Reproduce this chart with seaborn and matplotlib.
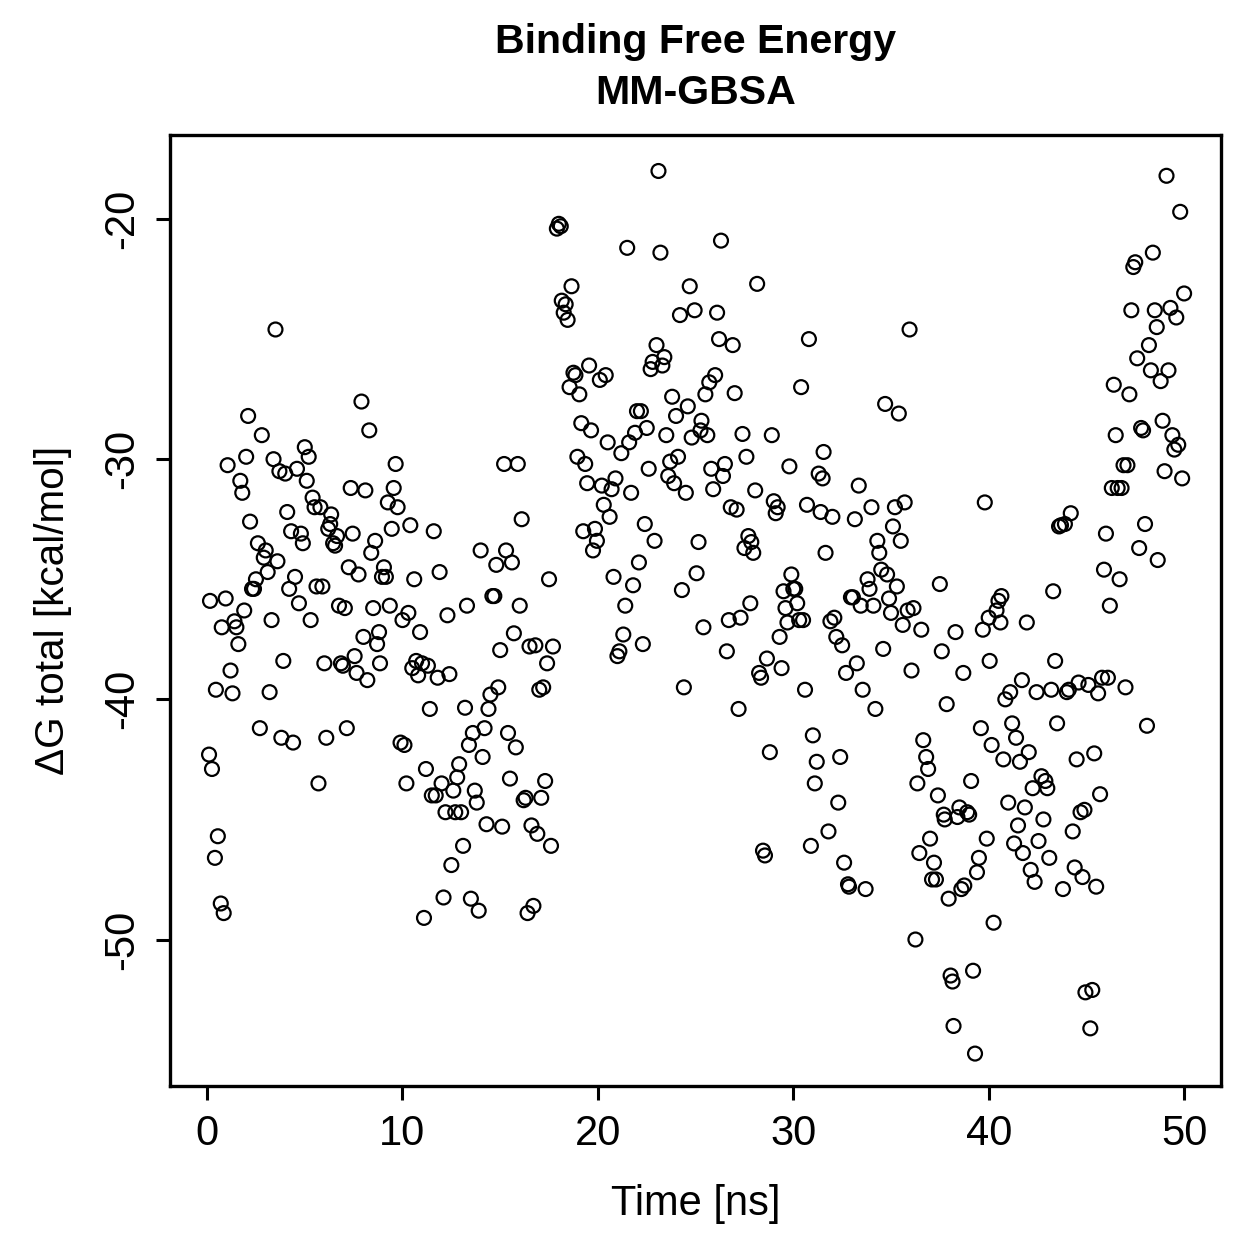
import matplotlib
matplotlib.use("Agg")
import matplotlib.pyplot as plt
import seaborn as sns
import pandas as pd

time_ns = [
0.1,0.25,0.15,0.4,0.45,0.55,0.7,0.85,0.75,0.95,1.05,1.2,1.3,1.4,1.5,1.6,1.7,1.8,1.9,2.0,
2.1,2.2,2.3,2.4,2.5,2.6,2.7,2.8,2.9,3.0,3.1,3.2,3.3,3.4,3.5,3.6,3.7,3.8,3.9,4.0,
4.1,4.2,4.3,4.4,4.5,4.6,4.7,4.8,4.9,5.0,5.1,5.2,5.3,5.4,5.5,5.6,5.7,5.8,5.9,6.0,
6.1,6.2,6.3,6.35,6.45,6.55,6.65,6.75,6.85,6.95,7.05,7.15,7.25,7.35,7.45,7.55,7.65,7.75,7.9,8.0,
8.1,8.2,8.3,8.4,8.5,8.6,8.7,8.8,8.85,8.95,9.05,9.15,9.25,9.35,9.45,9.55,9.65,9.75,9.9,10.0,
10.1,10.2,10.3,10.4,10.5,10.6,10.7,10.8,10.9,11.0,11.1,11.2,11.3,11.4,11.5,11.6,11.7,11.8,11.9,12.0,
12.1,12.2,12.3,12.4,12.5,12.6,12.7,12.8,12.9,13.0,13.1,13.2,13.3,13.4,13.5,13.6,13.7,13.8,13.9,14.0,
14.1,14.2,14.3,14.4,14.5,14.6,14.7,14.8,14.9,15.0,15.1,15.2,15.3,15.4,15.5,15.6,15.7,15.8,15.9,16.0,
16.1,16.2,16.3,16.4,16.5,16.6,16.7,16.8,16.9,17.0,17.1,17.2,17.3,17.4,17.5,17.6,17.7,17.9,18.0,18.1,
18.15,18.25,18.35,18.45,18.55,18.65,18.75,18.85,18.95,19.05,19.15,19.25,19.35,19.45,19.55,19.65,19.75,19.85,19.95,20.1,
20.2,20.3,20.4,20.5,20.6,20.7,20.8,20.9,21.0,21.1,21.2,21.3,21.4,21.5,21.6,21.7,21.8,21.9,22.0,22.1,
22.2,22.3,22.4,22.5,22.6,22.7,22.8,22.9,23.0,23.1,23.2,23.3,23.4,23.5,23.6,23.7,23.8,23.9,24.0,24.1,
24.2,24.3,24.4,24.5,24.6,24.7,24.8,24.95,25.05,25.15,25.25,25.3,25.4,25.5,25.6,25.7,25.8,25.9,26.0,26.1,
26.2,26.3,26.4,26.5,26.6,26.7,26.8,26.9,27.0,27.1,27.2,27.3,27.4,27.5,27.6,27.7,27.8,27.85,27.95,28.05,
28.15,28.25,28.35,28.45,28.55,28.65,28.8,28.9,29.0,29.1,29.2,29.3,29.4,29.5,29.6,29.7,29.8,29.9,30.0,30.1,
30.2,30.3,30.4,30.5,30.6,30.7,30.8,30.9,31.0,31.1,31.2,31.3,31.4,31.5,31.55,31.65,31.8,31.9,32.0,32.1,
32.2,32.3,32.4,32.5,32.6,32.7,32.8,32.85,32.95,33.05,33.15,33.25,33.35,33.45,33.55,33.7,33.8,33.9,34.0,34.1,
34.2,34.3,34.4,34.5,34.6,34.7,34.8,34.9,35.0,35.1,35.2,35.3,35.4,35.5,35.6,35.7,35.85,35.95,36.05,36.15,
36.25,36.35,36.45,36.55,36.65,36.8,36.9,37.0,37.1,37.2,37.3,37.4,37.5,37.6,37.7,37.75,37.85,37.95,38.05,38.15,
38.2,38.3,38.4,38.5,38.6,38.7,38.75,38.9,39.0,39.1,39.2,39.3,39.4,39.5,39.6,39.7,39.8,39.9,40.0,40.05,
40.15,40.25,40.4,40.5,40.6,40.65,40.75,40.85,41.0,41.1,41.2,41.3,41.4,41.5,41.6,41.7,41.75,41.85,41.95,42.05,
42.15,42.25,42.35,42.45,42.55,42.7,42.8,42.9,43.0,43.1,43.2,43.3,43.4,43.5,43.6,43.7,43.8,43.9,44.0,44.1,
44.2,44.3,44.4,44.5,44.6,44.7,44.8,44.9,44.95,45.1,45.2,45.3,45.4,45.5,45.6,45.7,45.8,45.9,46.0,46.1,
46.2,46.3,46.4,46.5,46.6,46.7,46.8,46.9,47.0,47.1,47.2,47.3,47.4,47.5,47.6,47.7,47.8,47.9,48.0,48.1,
48.2,48.3,48.4,48.5,48.6,48.65,48.8,48.9,49.0,49.1,49.2,49.3,49.4,49.5,49.6,49.7,49.8,49.9,50.0,
]

dg_total = [
-42.3,-42.9,-35.9,-46.6,-39.6,-45.7,-48.5,-48.9,-37.0,-35.8,-30.25,-38.8,-39.75,-36.75,-37.0,-37.7,-30.9,-31.4,-36.3,-29.9,
-28.2,-32.6,-35.4,-35.4,-35.0,-33.5,-41.2,-29.0,-34.1,-33.8,-34.7,-39.7,-36.7,-30.0,-24.6,-34.25,-30.5,-41.6,-38.4,-30.6,
-32.2,-35.4,-33.0,-41.8,-34.9,-30.4,-36.0,-33.1,-33.5,-29.5,-30.9,-29.9,-36.7,-31.6,-32.0,-35.3,-43.5,-32.0,-35.3,-38.5,
-41.6,-32.9,-32.7,-32.3,-33.5,-33.6,-33.2,-36.1,-38.5,-38.6,-36.2,-41.2,-34.5,-31.2,-33.1,-38.2,-38.9,-34.8,-27.6,-37.4,
-31.3,-39.2,-28.8,-33.9,-36.2,-33.4,-37.7,-37.2,-38.5,-34.9,-34.5,-34.9,-31.8,-36.1,-32.9,-31.2,-30.2,-32.0,-41.8,-36.7,
-41.9,-43.5,-36.4,-32.75,-38.7,-35.0,-38.4,-39.0,-37.2,-38.5,-49.1,-42.9,-38.6,-40.4,-44.0,-33.0,-44.0,-39.1,-34.7,-43.5,
-48.25,-44.7,-36.5,-38.95,-46.9,-43.8,-44.7,-43.25,-42.7,-44.7,-46.1,-40.35,-36.1,-41.9,-48.3,-41.4,-43.8,-44.3,-48.8,-33.8,
-42.4,-41.2,-45.2,-40.4,-39.8,-35.7,-35.7,-34.4,-39.5,-37.95,-45.3,-30.2,-33.8,-41.4,-43.3,-34.3,-37.25,-42.0,-30.2,-36.1,
-32.5,-44.2,-44.1,-48.9,-37.8,-45.25,-48.6,-37.75,-45.6,-39.6,-44.1,-39.5,-43.4,-38.5,-35.0,-46.1,-37.8,-20.4,-20.2,-20.3,
-23.4,-23.9,-23.55,-24.2,-27.0,-22.8,-26.4,-26.5,-29.9,-27.3,-28.5,-33.0,-30.2,-31.0,-26.1,-28.8,-33.8,-32.9,-33.4,-26.7,
-31.1,-31.9,-26.5,-29.3,-32.4,-31.25,-34.9,-30.8,-38.2,-38.0,-29.75,-37.3,-36.1,-21.2,-29.3,-31.4,-35.25,-28.9,-28.0,-34.3,
-28.0,-37.7,-32.7,-28.7,-30.4,-26.25,-25.95,-33.4,-25.25,-18.0,-21.4,-26.1,-25.75,-29.0,-30.7,-30.1,-27.4,-31.0,-28.2,-29.9,
-24.0,-35.45,-39.5,-31.4,-27.8,-22.8,-29.1,-23.8,-34.75,-33.45,-28.8,-28.4,-37.0,-27.3,-29.0,-26.8,-30.4,-31.25,-26.5,-23.9,
-25.0,-20.9,-30.7,-30.2,-38.0,-36.7,-32.0,-25.25,-27.25,-32.1,-40.4,-36.6,-28.95,-33.7,-29.9,-33.2,-36.0,-33.45,-33.9,-31.3,
-22.7,-38.9,-39.1,-46.3,-46.5,-38.3,-42.2,-29.0,-31.75,-32.25,-32.0,-37.4,-38.7,-35.5,-36.2,-36.8,-30.3,-34.8,-35.4,-35.4,
-36.0,-36.7,-27.0,-36.7,-39.6,-31.9,-25.0,-46.1,-41.5,-43.5,-42.6,-30.6,-32.2,-30.8,-29.7,-33.9,-45.5,-36.75,-32.4,-36.6,
-37.4,-44.3,-42.4,-37.75,-46.8,-38.9,-47.7,-47.8,-35.75,-35.75,-32.5,-38.5,-31.1,-36.1,-39.6,-47.9,-35.0,-35.4,-32.0,-36.1,
-40.4,-33.4,-33.9,-34.6,-37.9,-27.7,-34.8,-35.8,-36.4,-32.8,-32.0,-35.3,-28.1,-33.4,-36.9,-31.8,-36.3,-24.6,-38.8,-36.2,
-50.0,-43.5,-46.4,-37.1,-41.7,-42.4,-42.9,-45.8,-47.5,-46.8,-47.5,-44.0,-35.2,-38.0,-44.8,-45.0,-40.2,-48.3,-51.5,-51.75,
-53.6,-37.2,-44.9,-44.5,-47.9,-38.9,-47.75,-44.7,-44.8,-43.4,-51.3,-54.75,-47.2,-46.6,-41.2,-37.1,-31.8,-45.8,-36.6,-38.4,
-41.9,-49.3,-36.3,-35.9,-36.8,-35.7,-42.5,-40.0,-44.3,-39.7,-41.0,-46.0,-41.6,-45.25,-42.6,-39.2,-46.4,-44.5,-36.8,-42.2,
-47.1,-43.7,-47.6,-39.7,-45.9,-43.2,-45.0,-43.4,-43.7,-46.6,-39.6,-35.5,-38.4,-41.0,-32.8,-32.75,-47.9,-32.7,-39.7,-39.6,
-32.25,-45.5,-47.0,-42.5,-39.3,-44.7,-47.4,-44.6,-52.2,-39.4,-53.7,-52.1,-42.25,-47.8,-39.75,-43.95,-39.1,-34.6,-33.1,-39.1,
-36.1,-31.2,-26.9,-29.0,-31.2,-35.0,-31.2,-30.25,-39.5,-30.25,-27.3,-23.8,-22.0,-21.8,-25.8,-33.7,-28.7,-28.8,-32.7,-41.1,
-25.25,-26.3,-21.4,-23.8,-24.5,-34.2,-26.75,-28.4,-30.5,-18.2,-26.3,-23.7,-29.0,-29.6,-24.1,-29.4,-19.7,-30.8,-23.1,
]

df = pd.DataFrame({"time": time_ns, "dg": dg_total})

sns.set_theme(style="ticks")
plt.rcParams["font.family"] = ["Liberation Sans", "DejaVu Sans"]
plt.rcParams["text.color"] = "black"
plt.rcParams["axes.labelcolor"] = "black"

fig = plt.figure(figsize=(6.295, 6.295), dpi=200)
ax = fig.add_axes([0.135, 0.1374, 0.835, 0.7554])

sns.scatterplot(data=df, x="time", y="dg", ax=ax, marker="o", s=25,
                facecolor="none", edgecolor="black", linewidth=0.8, legend=False)

ax.set_xlim(-1.9, 51.9)
ax.set_ylim(-56.1, -16.5)
ax.set_xticks([0, 10, 20, 30, 40, 50])
ax.set_yticks([-50, -40, -30, -20])
ax.set_yticklabels(["-50", "-40", "-30", "-20"], rotation=90, va="center")

for sp in ax.spines.values():
    sp.set_visible(True)
    sp.set_linewidth(1.2)
    sp.set_color("black")

ax.tick_params(axis="both", direction="out", length=5, width=1.1, colors="black",
               labelcolor="black", labelsize=15, pad=5)
ax.set_xlabel("Time [ns]", fontsize=15, labelpad=11, color="black")
ax.set_ylabel("ΔG total [kcal/mol]", fontsize=14.6, labelpad=11, color="black")
ax.set_title("Binding Free Energy\nMM-GBSA", fontsize=14.8, fontweight="bold", pad=11,
             linespacing=1.45, color="black")

fig.savefig("out.png", dpi=200, facecolor="white")
